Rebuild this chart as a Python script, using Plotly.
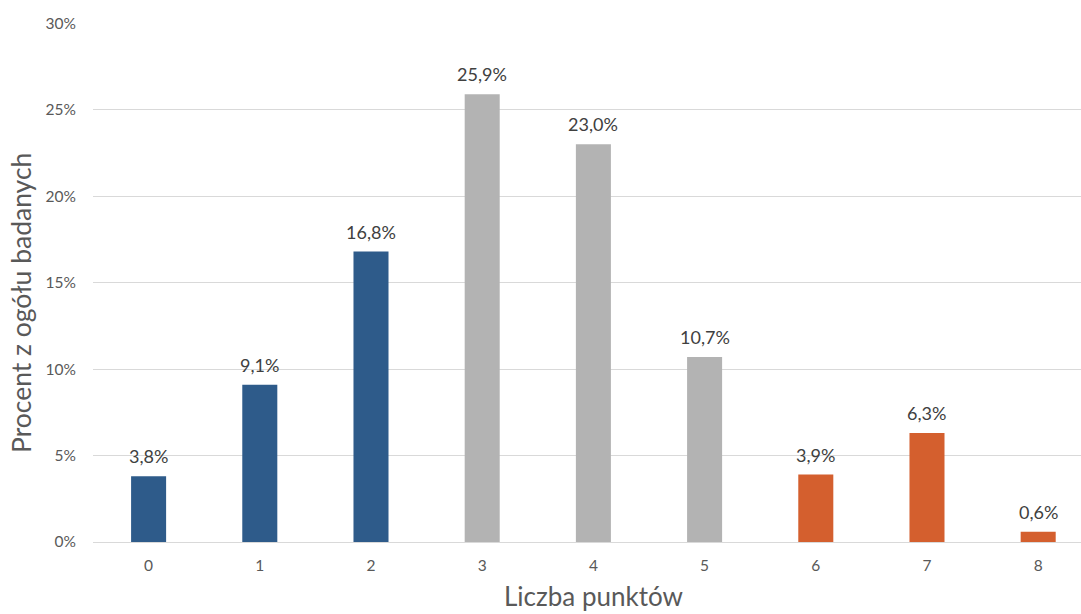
import plotly.graph_objects as go

# Points scored and the share of respondents for each score
categories = ["0", "1", "2", "3", "4", "5", "6", "7", "8"]
percent = [3.8, 9.1, 16.8, 25.9, 23.0, 10.7, 3.9, 6.3, 0.6]
bar_colors = ["#2E5B8A"] * 3 + ["#B3B3B3"] * 3 + ["#D45F2E"] * 3
y_ticks = [0, 5, 10, 15, 20, 25, 30]
y_tick_labels = [f"{t}%" for t in y_ticks]

labels = [f"{v:.1f}".replace(".", ",") + "%" for v in percent]
xs = list(range(len(categories)))

FONT = "Lato, Calibri, Carlito, sans-serif"
W, H = 1081, 614
ML, MR, MT, MB = 93, 0, 23, 72

fig = go.Figure(
    go.Bar(
        x=xs,
        y=percent,
        marker=dict(color=bar_colors, line=dict(width=0)),
        width=0.315,
        hovertemplate="%{y:.1f}%<extra></extra>",
    )
)

# value labels above each bar
for x, v, t in zip(xs, percent, labels):
    fig.add_annotation(
        x=x, y=v, text=t, showarrow=False,
        yanchor="bottom", yshift=7,
        font=dict(size=18, color="#404040", family=FONT),
    )

# axis titles, placed in paper coordinates
pw, ph = W - ML - MR, H - MT - MB
fig.add_annotation(
    text="Liczba punktów", showarrow=False,
    xref="paper", yref="paper",
    x=(593 - ML) / pw, y=(H - MB - 596) / ph,
    xanchor="center", yanchor="middle",
    font=dict(size=26, color="#595959", family=FONT),
)
fig.add_annotation(
    text="Procent z ogółu badanych", showarrow=False, textangle=-90,
    xref="paper", yref="paper",
    x=(21 - ML) / pw, y=(H - MB - 303) / ph,
    xanchor="center", yanchor="middle",
    font=dict(size=26.5, color="#595959", family=FONT),
)

fig.update_layout(
    width=W,
    height=H,
    margin=dict(l=ML, r=MR, t=MT, b=MB),
    paper_bgcolor="white",
    plot_bgcolor="white",
    showlegend=False,
    font=dict(family=FONT, color="#595959"),
    xaxis=dict(
        range=[-0.5, 8.385],
        tickmode="array",
        tickvals=xs,
        ticktext=categories,
        tickfont=dict(size=15.5, color="#595959"),
        showgrid=False,
        showline=False,
        zeroline=False,
        ticks="",
        ticklabelstandoff=12,
    ),
    yaxis=dict(
        range=[0, 30.02],
        tickmode="array",
        tickvals=y_ticks,
        ticktext=y_tick_labels,
        tickfont=dict(size=15.5, color="#595959"),
        showgrid=True,
        gridcolor="#D9D9D9",
        gridwidth=1.3,
        zeroline=True,
        zerolinecolor="#D9D9D9",
        zerolinewidth=1.3,
        showline=False,
        ticks="",
        ticklabelstandoff=16,
    ),
)

fig.write_html("out.html")
